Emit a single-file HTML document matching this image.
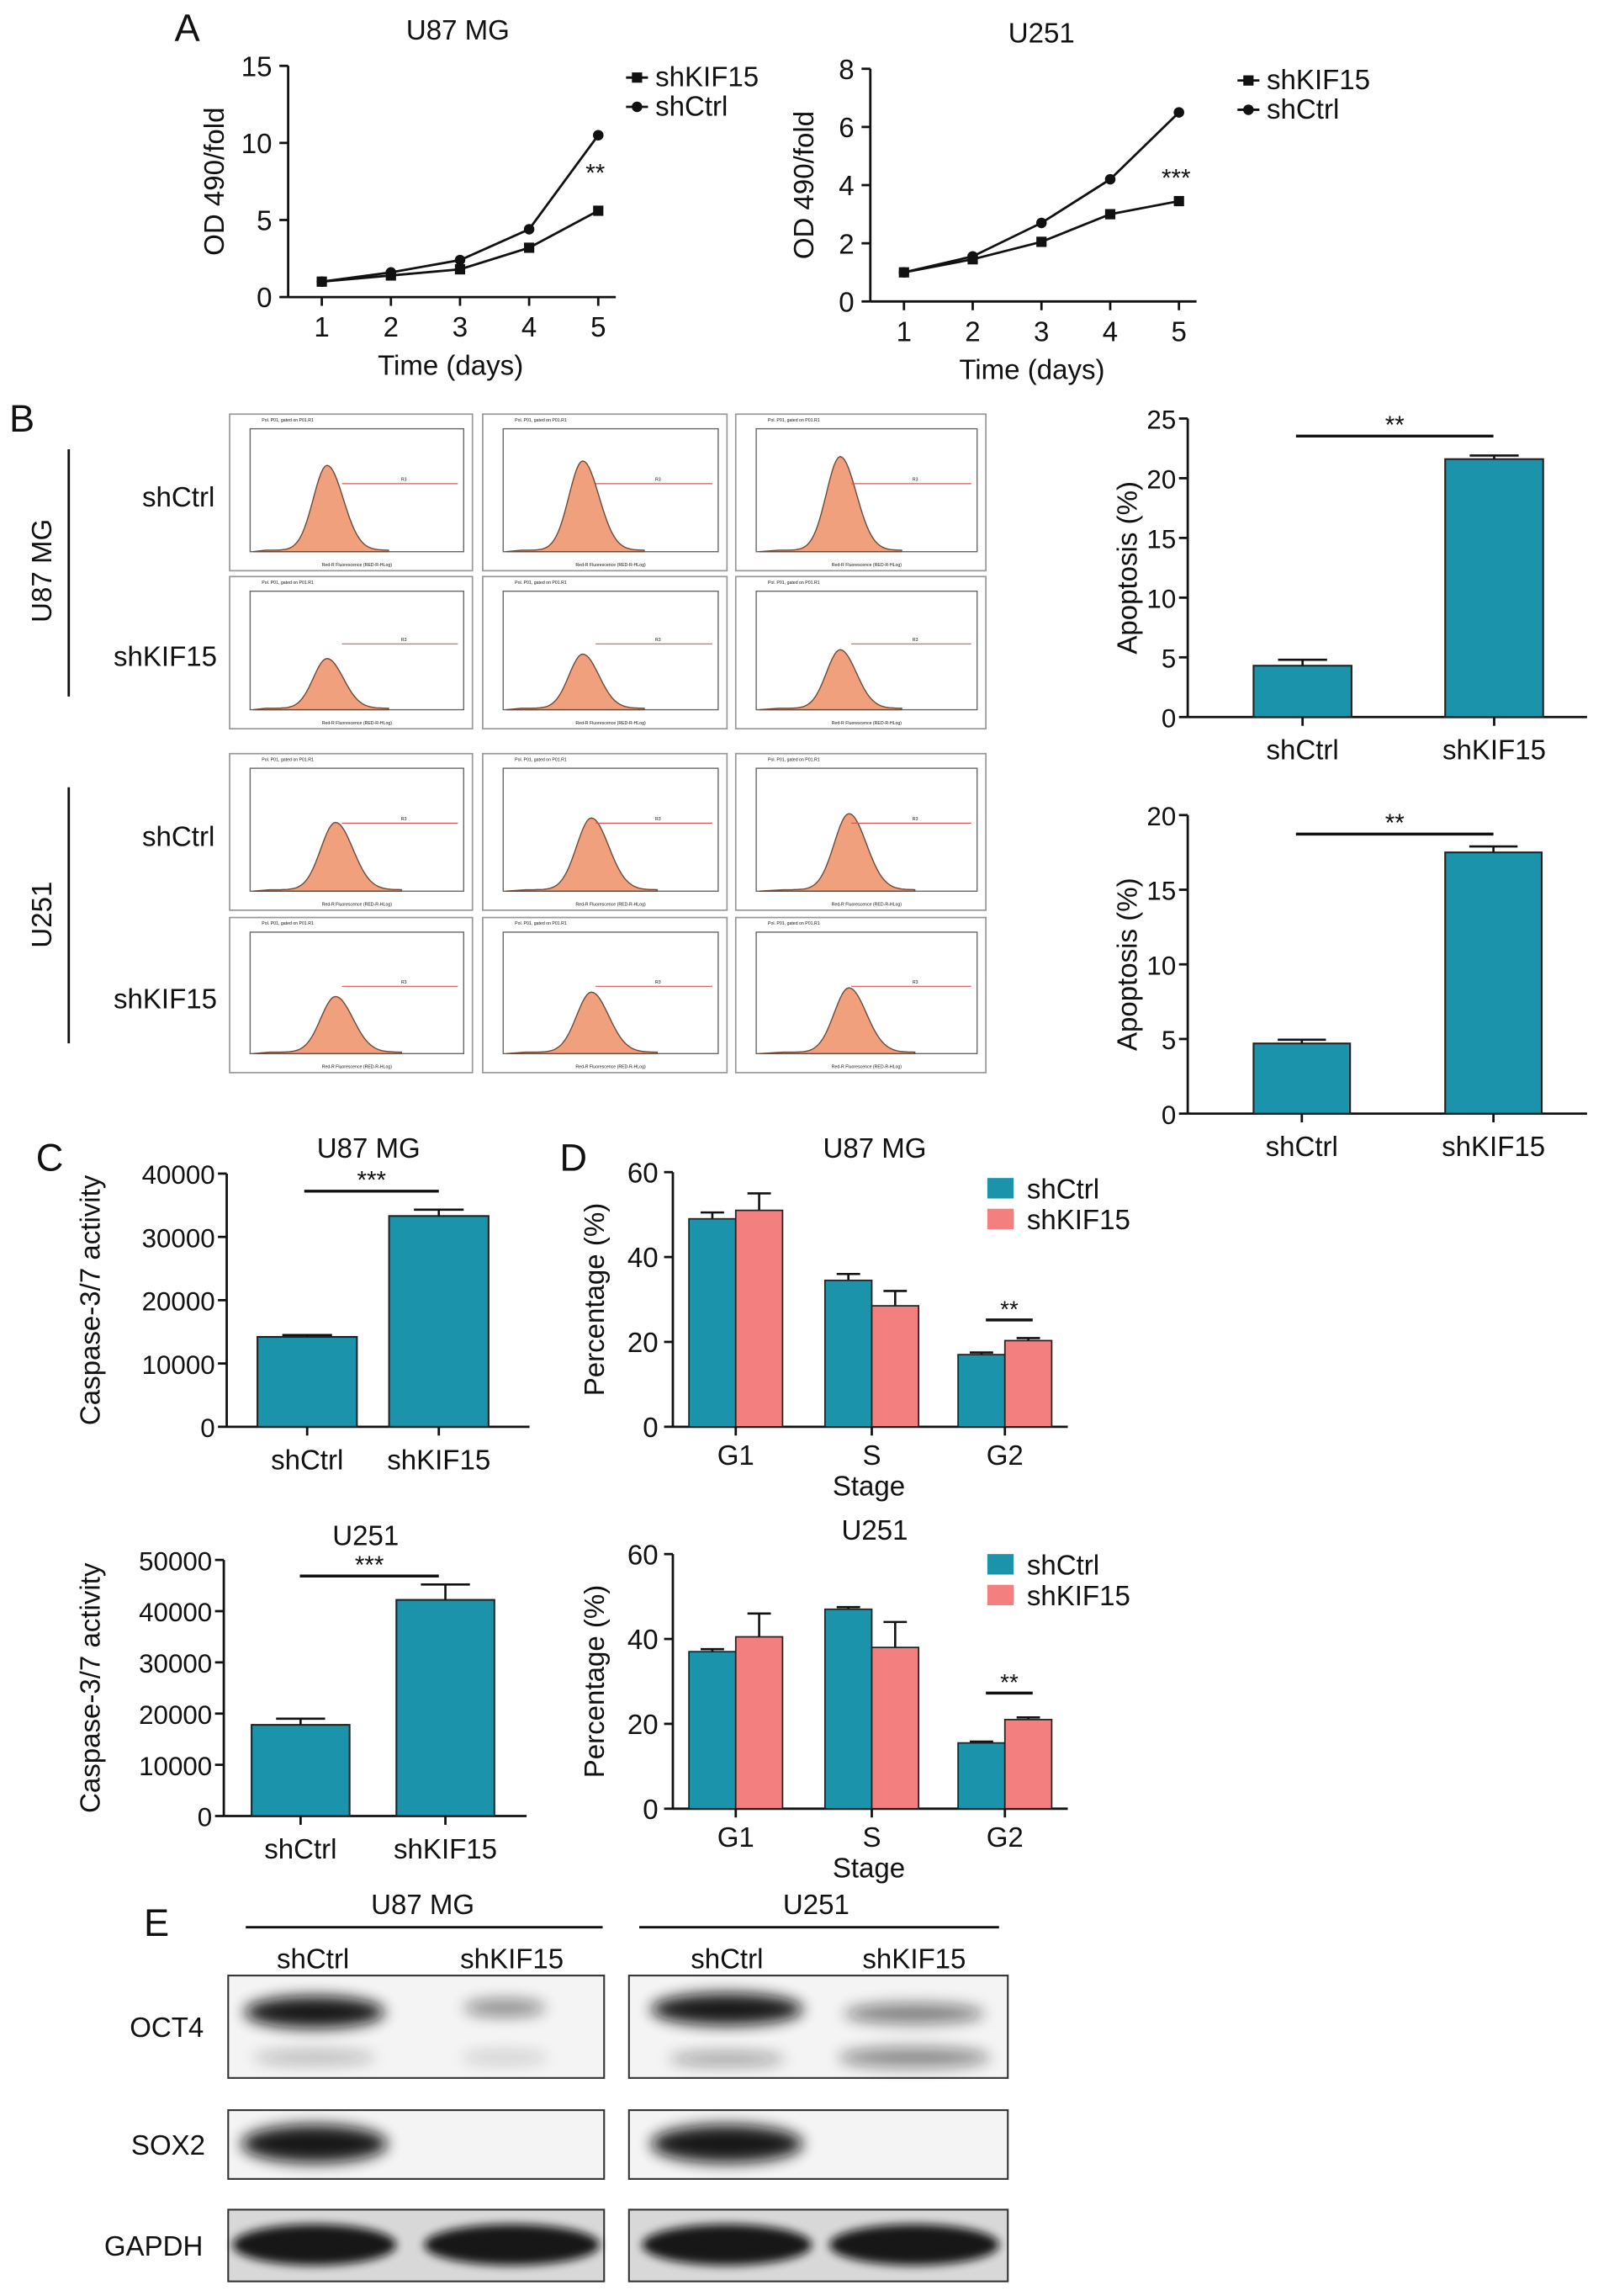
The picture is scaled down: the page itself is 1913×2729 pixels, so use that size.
<!DOCTYPE html>
<html><head><meta charset="utf-8"><style>
html,body{margin:0;padding:0;background:#fff}
svg{display:block;font-family:"Liberation Sans",Arial,sans-serif}
</style></head><body>
<svg id="fig" xmlns="http://www.w3.org/2000/svg" width="1913" height="2729" viewBox="0 0 1100 1569" preserveAspectRatio="none">
<defs>
<filter id="blur" x="-30%" y="-80%" width="160%" height="260%"><feGaussianBlur stdDeviation="5"/></filter>
<filter id="blur2" x="-30%" y="-80%" width="160%" height="260%"><feGaussianBlur stdDeviation="3"/></filter>
</defs>
<rect width="1100" height="1569" fill="#fff"/>
<g id="root"></g>
</svg>
<script>
// ---------- Panel A data ----------
const days = [1,2,3,4,5];
const u87KIF = [1,1.4,1.8,3.2,5.6];
const u87Ctrl = [1,1.6,2.4,4.4,10.5];
const u251KIF = [1,1.45,2.05,3.0,3.45];
const u251Ctrl = [1,1.55,2.7,4.2,6.5];
const u87Ticks = [0,5,10,15];
const u251Ticks = [0,2,4,6,8];
// ---------- Panel B data ----------
const apopGroups = ['shCtrl','shKIF15'];
const apopU87 = [4.3,21.6];
const apopU87Err = [0.5,0.3];
const apopU251 = [4.7,17.5];
const apopU251Err = [0.25,0.4];
const apopU87Ticks = [0,5,10,15,20,25];
const apopU251Ticks = [0,5,10,15,20];
// ---------- Panel C data ----------
const caspU87 = [14200,33300];
const caspU87Err = [300,1000];
const caspU251 = [17800,42200];
const caspU251Err = [1200,3000];
const caspU87Ticks = [0,10000,20000,30000,40000];
const caspU251Ticks = [0,10000,20000,30000,40000,50000];
// ---------- Panel D data ----------
const stages = ['G1','S','G2'];
const cycU87Ctrl = [49,34.5,17];
const cycU87CtrlErr = [1.5,1.5,0.5];
const cycU87KIF = [51,28.5,20.3];
const cycU87KIFErr = [4,3.5,0.6];
const cycU251Ctrl = [37,47,15.5];
const cycU251CtrlErr = [0.6,0.5,0.3];
const cycU251KIF = [40.5,38,21];
const cycU251KIFErr = [5.5,6,0.5];
const cycTicks = [0,20,40,60];

const NS='http://www.w3.org/2000/svg';
const root=document.getElementById('root');
function el(tag,attrs,parent,text){const e=document.createElementNS(NS,tag);for(const k in attrs)e.setAttribute(k,attrs[k]);if(text!==undefined)e.textContent=text;(parent||root).appendChild(e);return e;}
function txt(x,y,s,size,opts,parent){opts=opts||{};const a={x:x,y:y,'font-size':size,fill:'#111','text-anchor':opts.anchor||'middle'};if(opts.rot)a.transform='rotate(-90 '+x+' '+y+')';if(opts.weight)a['font-weight']=opts.weight;const t=el('text',a,parent,s);return t;}
function line(x1,y1,x2,y2,w,parent,col){return el('line',{x1:x1,y1:y1,x2:x2,y2:y2,stroke:col||'#111','stroke-width':w||1.6},parent);}
const TEAL='#1a93ab', PINK='#f47f7f';

[['A',128,28],['B',15,295],['C',34,800],['D',392,800],['E',107,1323]].forEach(p=>{
  const t=txt(p[1],p[2],p[0],26);
  
  
});

function lineChart(cfg){
  const g=el('g',{});
  
  
  const ymax=cfg.ticks[cfg.ticks.length-1];
  const X=d=>cfg.x1+(d-1)*(cfg.x5-cfg.x1)/4;
  const Y=v=>cfg.y0-v*(cfg.y0-cfg.yTop)/ymax;
  line(cfg.ax,cfg.yTop,cfg.ax,cfg.y0,1.6,g);
  line(cfg.ax,cfg.y0,cfg.x5+12,cfg.y0,1.6,g);
  cfg.ticks.forEach(t=>{line(cfg.ax-6,Y(t),cfg.ax,Y(t),1.6,g);txt(cfg.ax-11,Y(t)+7,String(t),19,{anchor:'end'},g);});
  days.forEach(d=>{line(X(d),cfg.y0,X(d),cfg.y0+6,1.6,g);txt(X(d),cfg.y0+27,String(d),19,{},g);});
  txt(cfg.title[0],cfg.title[1],cfg.titleText,19,{},g);
  txt((cfg.ax+cfg.x5)/2+5,cfg.y0+53,'Time (days)',19,{},g);
  txt(cfg.ylx,(cfg.yTop+cfg.y0)/2,'OD 490/fold',19,{rot:true},g);
  const s1=el('polyline',{points:days.map((d,i)=>X(d)+','+Y(cfg.kif[i])).join(' '),fill:'none',stroke:'#111','stroke-width':1.6},g);
  
  
  const s2=el('polyline',{points:days.map((d,i)=>X(d)+','+Y(cfg.ctrl[i])).join(' '),fill:'none',stroke:'#111','stroke-width':1.6},g);
  
  
  days.forEach((d,i)=>{
    el('rect',{x:X(d)-3.5,y:Y(cfg.kif[i])-3.5,width:7,height:7,fill:'#111'},g);
    el('circle',{cx:X(d),cy:Y(cfg.ctrl[i]),r:3.6,fill:'#111'},g);
  });
  txt(X(5)-2,Y(cfg.kif[4])-cfg.sigOff,cfg.sig,17,{},g);
  const lx=cfg.legX, ly=cfg.legY;
  line(lx-5,ly,lx+10,ly,1.6,g);el('rect',{x:lx-1,y:ly-3.5,width:7,height:7,fill:'#111'},g);
  txt(lx+15,ly+6,'shKIF15',19,{anchor:'start'},g);
  line(lx-5,ly+20,lx+10,ly+20,1.6,g);el('circle',{cx:lx+2.5,cy:ly+20,r:3.6,fill:'#111'},g);
  txt(lx+15,ly+26,'shCtrl',19,{anchor:'start'},g);
}
lineChart({name:'growth-chart-u87',ax:197,x1:220,x5:409,y0:203,yTop:45,ticks:u87Ticks,kif:u87KIF,ctrl:u87Ctrl,title:[313,27],titleText:'U87 MG',ylx:153,legX:433,legY:53,sig:'**',sigOff:20});
lineChart({name:'growth-chart-u251',ax:595,x1:618,x5:806,y0:206,yTop:47,ticks:u251Ticks,kif:u251KIF,ctrl:u251Ctrl,title:[712,29],titleText:'U251',ylx:556,legX:851,legY:55,sig:'***',sigOff:10});

function barChart(cfg){
  const g=el('g',{});
  
  
  const ymax=cfg.ticks[cfg.ticks.length-1];
  const Y=v=>cfg.y0-v*(cfg.y0-cfg.yTop)/ymax;
  line(cfg.ax,cfg.yTop,cfg.ax,cfg.y0,1.6,g);
  line(cfg.ax,cfg.y0,cfg.xEnd,cfg.y0,1.6,g);
  cfg.ticks.forEach(t=>{line(cfg.ax-6,Y(t),cfg.ax,Y(t),1.6,g);txt(cfg.ax-8,Y(t)+7,String(t),18,{anchor:'end'},g);});
  cfg.vals.forEach((v,i)=>{
    const bx=cfg.bx[i], w=cfg.bw;
    const b=el('rect',{x:bx,y:Y(v),width:w,height:cfg.y0-Y(v),fill:TEAL,stroke:'#222','stroke-width':1.2},g);
    
    
    const c=bx+w/2, e=Y(v+cfg.err[i]);
    line(c,Y(v),c,e,1.5,g);line(c-w*0.25,e,c+w*0.25,e,1.5,g);
    line(c,cfg.y0,c,cfg.y0+6,1.6,g);
    txt(c,cfg.y0+29,apopGroups[i],19,{},g);
  });
  line(cfg.sig[0],cfg.sig[2],cfg.sig[1],cfg.sig[2],2,g);
  txt((cfg.sig[0]+cfg.sig[1])/2,cfg.sig[2]-2,cfg.sigText,17,{},g);
  if(cfg.title) txt(cfg.title[0],cfg.title[1],cfg.title[2],19,{},g);
  txt(cfg.ylx,(cfg.yTop+cfg.y0)/2,cfg.ylab,19,{rot:true},g);
}
barChart({name:'apoptosis-chart-u87',ax:812,xEnd:1085,y0:490,yTop:286,ticks:apopU87Ticks,vals:apopU87,err:apopU87Err,bx:[857,988],bw:67,sig:[886,1021,298],sigText:'**',ylx:777,ylab:'Apoptosis (%)'});
barChart({name:'apoptosis-chart-u251',ax:812,xEnd:1085,y0:761,yTop:557,ticks:apopU251Ticks,vals:apopU251,err:apopU251Err,bx:[857,988],bw:66,sig:[886,1021,570],sigText:'**',ylx:777,ylab:'Apoptosis (%)'});
barChart({name:'caspase-chart-u87',ax:155,xEnd:362,y0:975,yTop:802,ticks:caspU87Ticks,vals:caspU87,err:caspU87Err,bx:[176,266],bw:68,sig:[208,300,814],sigText:'***',title:[252,791,'U87 MG'],ylx:68,ylab:'Caspase-3/7 activity'});
barChart({name:'caspase-chart-u251',ax:153,xEnd:360,y0:1241,yTop:1066,ticks:caspU251Ticks,vals:caspU251,err:caspU251Err,bx:[172,271],bw:67,sig:[205,300,1077],sigText:'***',title:[250,1056,'U251'],ylx:68,ylab:'Caspase-3/7 activity'});

function cycleChart(cfg){
  const g=el('g',{});
  
  
  const ymax=cycTicks[cycTicks.length-1];
  const Y=v=>cfg.y0-v*(cfg.y0-cfg.yTop)/ymax;
  const cx=[503,596,687], w=32;
  line(cfg.ax,cfg.yTop,cfg.ax,cfg.y0,1.6,g);
  line(cfg.ax,cfg.y0,730,cfg.y0,1.6,g);
  cycTicks.forEach(t=>{line(cfg.ax-6,Y(t),cfg.ax,Y(t),1.6,g);txt(cfg.ax-10,Y(t)+7,String(t),19,{anchor:'end'},g);});
  stages.forEach((s,i)=>{
    [[cfg.ctrl,cfg.ctrlErr,TEAL,-w,'shctrl'],[cfg.kif,cfg.kifErr,PINK,0,'shkif15']].forEach(S=>{
      const v=S[0][i], bx=cx[i]+S[3];
      const e=Y(v+S[1][i]), c=bx+w/2;
      line(c,Y(v),c,e,1.5,g);line(c-8,e,c+8,e,1.5,g);
      const b=el('rect',{x:bx,y:Y(v),width:w,height:cfg.y0-Y(v),fill:S[2],stroke:'#222','stroke-width':1},g);
      
      
    });
    line(cx[i],cfg.y0,cx[i],cfg.y0+6,1.6,g);
    txt(cx[i],cfg.y0+26,s,19,{},g);
  });
  txt(594,cfg.y0+47,'Stage',19,{},g);
  txt(598,cfg.yTop-10,cfg.title,19,{},g);
  txt(413,(cfg.yTop+cfg.y0)/2,'Percentage (%)',19,{rot:true},g);
  line(674,cfg.sigY,706,cfg.sigY,2,g);txt(690,cfg.sigY-2,'**',16,{},g);
  el('rect',{x:675,y:cfg.legY-7,width:18,height:14,fill:TEAL},g);
  txt(702,cfg.legY+7,'shCtrl',19,{anchor:'start'},g);
  el('rect',{x:675,y:cfg.legY+14,width:18,height:14,fill:PINK},g);
  txt(702,cfg.legY+28,'shKIF15',19,{anchor:'start'},g);
}
cycleChart({name:'cell-cycle-chart-u87',ax:460,y0:975,yTop:801,ctrl:cycU87Ctrl,ctrlErr:cycU87CtrlErr,kif:cycU87KIF,kifErr:cycU87KIFErr,title:'U87 MG',sigY:902,legY:812});
cycleChart({name:'cell-cycle-chart-u251',ax:460,y0:1236,yTop:1062,ctrl:cycU251Ctrl,ctrlErr:cycU251CtrlErr,kif:cycU251KIF,kifErr:cycU251KIFErr,title:'U251',sigY:1157,legY:1069});

(function(){
  const g=el('g',{});
  
  
  const cols=[[157,323],[330,497],[503,674]];
  const rows=[[283,390,58,'u87-shctrl'],[394,498,34,'u87-shkif15'],[515,622,46,'u251-shctrl'],[627,733,38,'u251-shkif15']];
  rows.forEach((r,ri)=>{cols.forEach((c,ci)=>{
    const x0=c[0],y0=r[0],W=c[1]-c[0],H=r[1]-r[0];
    const p=el('g',{},g);
    
    
    el('rect',{x:x0,y:y0,width:W,height:H,fill:'#fff',stroke:'#999','stroke-width':1},p);
    const ax=x0+14, ab=y0+H-13, ar=x0+W-6, at=y0+10;
    el('rect',{x:ax,y:at,width:ar-ax,height:ab-at,fill:'none',stroke:'#666','stroke-width':0.8},p);
    txt(x0+22,y0+5,'Pol. P01, gated on P01.R1',3,{anchor:'start'},p);
    txt((ax+ar)/2,y0+H-3,'Red-R Fluorescence (RED-R-HLog)',3,{},p);
    const peakX=ax+(ar-ax)*(ri<2?0.36:0.40)+ci*1.5, hgt=r[2]+ci*3, wd=ri<2?14:15;
    let d='M'+(ax+2)+','+ab;
    for(let k=0;k<=60;k++){const xx=peakX-3*wd+k*(6*wd/60);const dx=(xx-peakX)/wd;const yy=ab-hgt*Math.exp(-dx*dx*(dx<0?1.1:0.8))-1;d+=' L'+xx.toFixed(1)+','+yy.toFixed(1);}
    d+=' L'+(peakX+3*wd)+','+ab+' Z';
    el('path',{d:d,fill:'#f0a07c',stroke:'#6b4a3a','stroke-width':0.8},p);
    line(ax+(ar-ax)*0.43,y0+H*0.5-6,ar-4,y0+H*0.5-6,0.7,p,'#d45a5a');
    txt(ax+(ar-ax)*0.72,y0+H*0.5-8,'R3',3,{},p);
  });});
  txt(122,346,'shCtrl',19,{},g);txt(113,455,'shKIF15',19,{},g);
  txt(122,578,'shCtrl',19,{},g);txt(113,689,'shKIF15',19,{},g);
  txt(35,390,'U87 MG',19,{rot:true},g);line(47,307,47,476,1.6,g);
  txt(35,625,'U251',19,{rot:true},g);line(47,538,47,713,1.6,g);
})();

(function(){
  const g=el('g',{});
  
  
  txt(289,1308,'U87 MG',19,{},g);line(168,1317,412,1317,1.6,g);
  txt(558,1308,'U251',19,{},g);line(437,1317,683,1317,1.6,g);
  txt(214,1345,'shCtrl',19,{},g);txt(350,1345,'shKIF15',19,{},g);
  txt(497,1345,'shCtrl',19,{},g);txt(625,1345,'shKIF15',19,{},g);
  const rowsB=[[1350,1420,'OCT4',114],[1442,1489,'SOX2',115],[1510,1559,'GAPDH',105]];
  rowsB.forEach(r=>{
    txt(r[3],(r[0]+r[1])/2+7,r[2],19,{},g);
    [[156,413],[430,689]].forEach(b=>{
      const bb=el('rect',{x:b[0],y:r[0],width:b[1]-b[0],height:r[1]-r[0],fill:r[2]==='GAPDH'?'#d8d8d8':'#f4f4f4',stroke:'#333','stroke-width':1.2},g);
      
      
    });
  });
  function band(cx,cy,rx,ry,op,f){el('ellipse',{cx:cx,cy:cy,rx:rx,ry:ry,fill:'#111',opacity:op,filter:'url(#'+(f||'blur')+')'},g);}
  band(215,1375,48,11,0.95);band(215,1406,42,5,0.25);band(345,1372,28,6,0.45);band(345,1406,30,5,0.15);
  band(497,1373,52,11,0.95);band(497,1407,40,5,0.35);band(625,1376,48,7,0.5);band(625,1406,52,7,0.45);
  band(215,1465,50,13,0.95);band(497,1465,52,13,0.95);
  band(215,1534,56,14,0.95,'blur2');band(350,1534,60,14,0.95,'blur2');
  band(497,1534,58,14,0.95,'blur2');band(625,1534,58,14,0.95,'blur2');
})();
</script>
</body></html>
